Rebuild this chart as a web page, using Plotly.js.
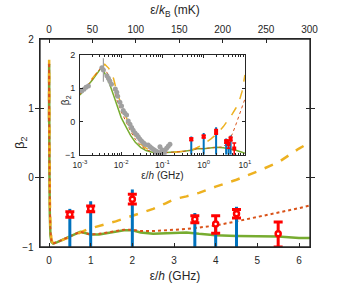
<!DOCTYPE html>
<html><head><meta charset="utf-8">
<script src="https://cdn.plot.ly/plotly-3.0.1.min.js"></script>
<style>html,body{margin:0;padding:0;background:#fff}#c{width:337px;height:285px}</style>
</head><body><div id="c"></div>
<script>
// ---- data ----
const mainX = [0.001,0.002,0.0035,0.006,0.01,0.02,0.035,0.06,0.1,0.2,0.3,0.4,0.5,0.6,0.75,0.9,1.0,1.2,1.4,1.6,1.8,2.0,2.2,2.5,2.8,3.0,3.3,3.6,4.0,4.5,5.0,5.5,6.0,6.264];
const greenMain = [0.8,1.22,1.64,0.86,0.1,-0.54,-0.84,-0.93,-0.95,-0.93,-0.9,-0.88,-0.85,-0.82,-0.78,-0.8,-0.82,-0.82,-0.8,-0.78,-0.76,-0.76,-0.79,-0.81,-0.8,-0.79,-0.79,-0.81,-0.83,-0.84,-0.84,-0.85,-0.87,-0.87];
const redMain = [0.82,1.25,1.66,1.05,0.3,-0.4,-0.78,-0.92,-0.95,-0.93,-0.9,-0.88,-0.85,-0.82,-0.78,-0.8,-0.82,-0.81,-0.79,-0.77,-0.75,-0.75,-0.77,-0.77,-0.76,-0.75,-0.74,-0.72,-0.69,-0.63,-0.57,-0.5,-0.44,-0.4];
const orangeMain = [0.85,1.3,1.7,1.25,0.5,-0.3,-0.72,-0.9,-0.95,-0.93,-0.9,-0.88,-0.86,-0.83,-0.79,-0.75,-0.73,-0.7,-0.67,-0.63,-0.59,-0.55,-0.51,-0.45,-0.37,-0.31,-0.27,-0.22,-0.13,-0.03,0.09,0.22,0.42,0.51];

const insetX = [0.001,0.0015,0.002,0.0027,0.0033,0.004,0.005,0.0065,0.008,0.01,0.013,0.017,0.022,0.03,0.04,0.06,0.1,0.15,0.2,0.3,0.5,0.7,1,1.5,2,3,4,5,6,7,8.5,10];
const greenIn = [0.8,1.05,1.25,1.47,1.62,1.45,1.2,0.8,0.45,0.12,-0.15,-0.42,-0.62,-0.78,-0.87,-0.93,-0.94,-0.93,-0.92,-0.9,-0.86,-0.81,-0.82,-0.8,-0.77,-0.79,-0.83,-0.84,-0.86,-0.88,-0.92,-0.95];
const redIn = [0.82,1.07,1.27,1.5,1.64,1.58,1.38,1.0,0.62,0.3,0.0,-0.3,-0.53,-0.73,-0.84,-0.92,-0.94,-0.93,-0.92,-0.9,-0.86,-0.81,-0.81,-0.79,-0.76,-0.76,-0.6,-0.36,-0.1,0.12,0.4,0.68];
const orangeIn = [0.85,1.1,1.3,1.5,1.62,1.72,1.6,1.3,0.85,0.5,0.15,-0.2,-0.45,-0.68,-0.8,-0.91,-0.93,-0.93,-0.92,-0.9,-0.86,-0.78,-0.68,-0.52,-0.39,-0.15,0.06,0.24,0.4,0.55,0.9,1.4];

const grayX = [0.0011,0.00125,0.0014,0.0016,0.0034,0.0037,0.0045,0.0049,0.0053,0.0058,0.0072,0.0078,0.0082,0.0093,0.0102,0.0112,0.0122,0.0135,0.0148,0.0163,0.0179,0.0195,0.0216,0.024,0.026,0.0285,0.0314,0.035,0.038,0.045,0.05,0.055,0.061,0.066,0.07,0.073,0.079,0.087,0.092,0.097,0.105,0.11,0.115,0.126,0.138,0.152];
const grayY = [0.92,0.97,1.03,1.07,1.62,1.55,1.38,1.3,1.22,1.12,0.98,0.88,0.76,0.58,0.47,0.33,0.26,0.2,0.02,-0.08,-0.18,-0.26,-0.34,-0.4,-0.46,-0.53,-0.59,-0.64,-0.69,-0.7,-0.76,-0.8,-0.84,-0.87,-0.95,-0.9,-0.92,-0.76,-0.95,-0.85,-0.92,-0.97,-0.88,-0.8,-0.74,-0.68];
const grayErr = grayX.map((v,i)=> i===5 ? 0.35 : 0);

const blueX = [0.5,1,2,3.5,4,4.5];
const blueTop = [-0.45,-0.34,-0.17,-0.51,-0.62,-0.42];
const redX = [0.5,1,2,3.5,4,4.5,5.5];
const redY = [-0.53,-0.45,-0.31,-0.6,-0.67,-0.52,-0.81];
const redErrPlus = [0.04,0.04,0.07,0.05,0.12,0.06,0.17];
const redErrMinus = [0.04,0.04,0.07,0.05,0.13,0.06,0.19];

const GHZ_TO_MK = 47.99;
const xRange = [-0.216, 6.264];

// ---- build ----
function stems(xs, tops, base){
  const X=[],Y=[];
  xs.forEach((x,i)=>{X.push(x,x,null);Y.push(base,tops[i],null);});
  return {X,Y};
}
const st = stems(blueX, blueTop, -1);
const cG='#77AC30', cO='#EDB120', cR='#D95319', cB='#0072BD';

const traces = [
  {x:mainX,y:greenMain,mode:'lines',line:{color:cG,width:2.5},xaxis:'x',yaxis:'y'},
  {x:mainX,y:orangeMain,mode:'lines',line:{color:cO,width:2.5,dash:'dash'},xaxis:'x',yaxis:'y'},
  {x:mainX,y:redMain,mode:'lines',line:{color:cR,width:2,dash:'dot'},xaxis:'x',yaxis:'y'},
  {x:st.X,y:st.Y,mode:'lines',line:{color:cB,width:3},xaxis:'x',yaxis:'y'},
  {x:redX,y:redY,mode:'markers',marker:{symbol:'circle',size:5,color:'#fff',line:{color:'#ff0000',width:2.5}},
   error_y:{type:'data',symmetric:false,array:redErrPlus,arrayminus:redErrMinus,color:'#ff0000',thickness:3,width:4.5},xaxis:'x',yaxis:'y'},
  // same red points expressed in mK on the top axis (invisible, keeps the top axis alive)
  {x:redX.map(v=>v*GHZ_TO_MK),y:redY,mode:'markers',marker:{size:1,opacity:0},xaxis:'x2',yaxis:'y',hoverinfo:'skip'},
  // inset
  {x:insetX,y:greenIn,mode:'lines',line:{color:cG,width:1.5},xaxis:'x3',yaxis:'y3'},
  {x:insetX,y:orangeIn,mode:'lines',line:{color:cO,width:1.5,dash:'dash'},xaxis:'x3',yaxis:'y3'},
  {x:insetX,y:redIn,mode:'lines',line:{color:cR,width:1,dash:'dot'},xaxis:'x3',yaxis:'y3'},
  {x:grayX,y:grayY,mode:'markers',marker:{size:5,color:'#a0a0a0'},
   error_y:{type:'data',array:grayErr,color:'#a0a0a0',thickness:1.2,width:0},xaxis:'x3',yaxis:'y3'},
  {x:st.X,y:st.Y,mode:'lines',line:{color:cB,width:2},xaxis:'x3',yaxis:'y3'},
  {x:redX,y:redY,mode:'markers',marker:{symbol:'square',size:4,color:'#ff0000'},
   error_y:{type:'data',symmetric:false,array:redErrPlus,arrayminus:redErrMinus,color:'#ff0000',thickness:1.5,width:2},xaxis:'x3',yaxis:'y3'}
];

const F = 'Liberation Sans, Arial, sans-serif';
const axC = '#262626';
const layout = {
  width:337,height:285,showlegend:false,
  paper_bgcolor:'#fff',plot_bgcolor:'#fff',
  margin:{l:40,r:27,t:39,b:38,pad:0},
  font:{family:F,color:'#262626',size:10},
  shapes:[{type:'rect',xref:'paper',yref:'paper',x0:0,x1:1,y0:0,y1:1,line:{color:axC,width:1.3},layer:'above'}],
  annotations:[
    {text:'β<sub>2</sub>',xref:'paper',yref:'paper',x:-0.074,y:0.5,xanchor:'center',yanchor:'middle',textangle:-90,showarrow:false,font:{size:13}},
    {text:'β<sub>2</sub>',xref:'paper',yref:'paper',x:0.097,y:0.707,xanchor:'center',yanchor:'middle',textangle:-90,showarrow:false,font:{size:10}}
  ],
  xaxis:{range:xRange,tickvals:[0,1,2,3,4,5,6],ticks:'inside',ticklen:4,tickcolor:axC,
    showline:true,linecolor:axC,linewidth:1.3,showgrid:false,zeroline:false,
    tickfont:{size:10},ticklabelstandoff:4,
    title:{text:'ε/<i>h</i> (GHz)',font:{size:12},standoff:6}},
  xaxis2:{overlaying:'x',side:'top',anchor:'y',range:[xRange[0]*GHZ_TO_MK,xRange[1]*GHZ_TO_MK],
    tickvals:[0,50,100,150,200,250,300],ticks:'inside',ticklen:4,tickcolor:axC,
    showline:true,linecolor:axC,linewidth:1.3,showgrid:false,zeroline:false,
    tickfont:{size:10},ticklabelstandoff:1,
    title:{text:'ε/<i>k</i><sub>B</sub> (mK)',font:{size:12},standoff:6}},
  yaxis:{range:[-1,2],tickvals:[-1,0,1,2],ticks:'inside',ticklen:4,tickcolor:axC,mirror:'allticks',
    showline:true,linecolor:axC,linewidth:1.3,showgrid:false,zeroline:false,
    tickfont:{size:10},ticklabelstandoff:3},
  xaxis3:{type:'log',range:[-3,1],domain:[0.148,0.759],anchor:'y3',
    tickvals:[0.001,0.01,0.1,1,10],ticktext:['10<sup>-3</sup>','10<sup>-2</sup>','10<sup>-1</sup>','10<sup>0</sup>','10<sup>1</sup>'],
    ticks:'inside',ticklen:3,tickcolor:axC,mirror:'ticks',
    minor:{ticks:'inside',ticklen:2,dtick:'D1',tickcolor:axC},
    showline:true,linecolor:axC,linewidth:1,showgrid:false,zeroline:false,
    tickfont:{size:8.5},ticklabelstandoff:2,
    title:{text:'ε/<i>h</i> (GHz)',font:{size:10},standoff:2}},
  yaxis3:{range:[-1,2],domain:[0.443,0.923],anchor:'x3',tickvals:[-1,0,1,2],
    ticks:'inside',ticklen:3,tickcolor:axC,mirror:'ticks',
    showline:true,linecolor:axC,linewidth:1,showgrid:false,zeroline:false,
    tickfont:{size:9},ticklabelstandoff:2}
};
Plotly.newPlot('c',traces,layout,{staticPlot:true,displayModeBar:false});
</script></body></html>
